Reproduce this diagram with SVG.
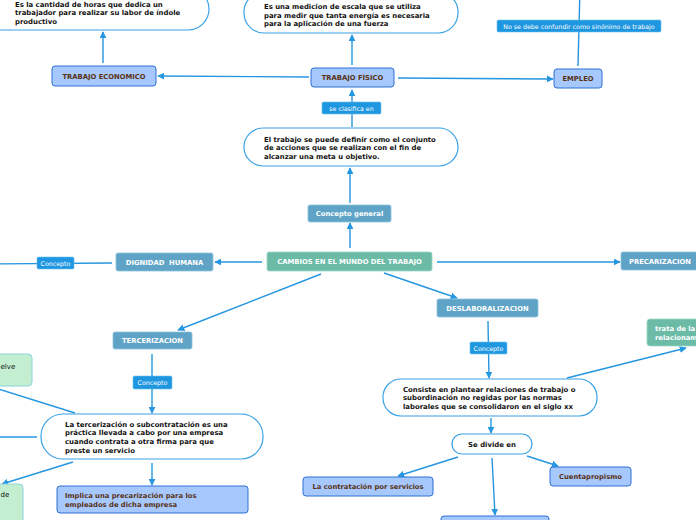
<svg xmlns="http://www.w3.org/2000/svg" width="696" height="520" viewBox="0 0 696 520">
<defs>
<marker id="ah" viewBox="0 0 10 10" refX="9" refY="5" markerWidth="7" markerHeight="7" markerUnits="userSpaceOnUse" orient="auto">
<path d="M0,0 L10,5 L0,10 z" fill="#2596e0"/>
</marker>
<style>
.c{stroke:#2596e0;stroke-width:1.4;fill:none;marker-end:url(#ah)}
.bub{fill:#fff;stroke:#3aa2e6;stroke-width:1.2}
.bt{font-family:"DejaVu Sans",Verdana,sans-serif;font-weight:bold;font-size:6.9px;fill:#111}
.lb{fill:#a6c8fc;stroke:#2d70d4;stroke-width:1}
.lbt{font-family:"DejaVu Sans",Verdana,sans-serif;font-weight:bold;font-size:6.8px;fill:#5a3214}
.sb{fill:#5fa4c7;stroke:#8cc3dd;stroke-width:0.8}
.tg{fill:#6cbba7;stroke:#9fd6c6;stroke-width:0.8}
.wt{font-family:"DejaVu Sans",Verdana,sans-serif;font-weight:bold;font-size:6.8px;fill:#fff}
.gr{fill:#c3eed0;stroke:#8ed4de;stroke-width:1}
.gt{font-family:"DejaVu Sans",Verdana,sans-serif;font-size:7px;fill:#111}
.lab{fill:#1f96e0;stroke:#6cc0ee;stroke-width:0.6}
.lt{font-family:"DejaVu Sans",Verdana,sans-serif;font-size:6.3px;fill:#fff}
</style>
</defs>

<g id="connectors">
<path class="c" d="M103,63 L103,32"/>
<path class="c" d="M309,77 L158,76"/>
<path class="c" d="M352,65 L352,35"/>
<path class="c" d="M398,78 L553,79"/>
<path class="c" d="M578,66 L580,-12"/>
<path class="c" d="M352,127 L352,90"/>
<path class="c" d="M350,203 L350,168"/>
<path class="c" d="M350,248 L350,223"/>
<path class="c" d="M262,262 L215,262"/>
<path class="c" d="M437,262 L620,262"/>
<path class="c" d="M321,274 L178,330"/>
<path class="c" d="M384,273 L457,298"/>
<path class="c" d="M112,263 L-12,264"/>
<path class="c" d="M152,354 L152,413"/>
<path class="c" d="M75,413 L-8,387"/>
<path class="c" d="M37,437 L-12,437"/>
<path class="c" d="M73,462 L2,484"/>
<path class="c" d="M152,463 L152,485"/>
<path class="c" d="M488,321 L489,378"/>
<path class="c" d="M567,378 L686,348"/>
<path class="c" d="M491,418 L491,433"/>
<path class="c" d="M458,457 L398,476"/>
<path class="c" d="M492,458 L495,515"/>
<path class="c" d="M527,456 L558,466"/>
<g id="conn-labels">
<rect class="lab" x="497" y="20" width="164" height="12" rx="1.5"/>
<text class="lt" x="579" y="28.5" text-anchor="middle">No se debe confundir como sinónimo de trabajo</text>
<rect class="lab" x="322" y="102" width="59" height="12" rx="1.5"/>
<text class="lt" x="351.5" y="110.5" text-anchor="middle">se clasifica en</text>
<rect class="lab" x="37" y="257" width="37" height="12" rx="1.5"/>
<text class="lt" x="55.5" y="265.5" text-anchor="middle">Concepto</text>
<rect class="lab" x="133" y="376" width="39" height="13" rx="1.5"/>
<text class="lt" x="152.5" y="385" text-anchor="middle">Concepto</text>
<rect class="lab" x="470" y="342" width="37" height="12" rx="1.5"/>
<text class="lt" x="488.5" y="350.5" text-anchor="middle">Concepto</text>
</g>
</g>

<g id="n-horas">
<rect class="bub" x="-22" y="-12" width="231" height="42" rx="21"/>
<text class="bt" x="15" y="6.5">Es la cantidad de horas que dedica un</text>
<text class="bt" x="15" y="15">trabajador para realizar su labor de índole</text>
<text class="bt" x="15" y="23.5">productivo</text>
</g>

<g id="n-medicion">
<rect class="bub" x="244" y="-8" width="214" height="41" rx="20"/>
<text class="bt" x="264" y="9">Es una medicion de escala que se utiliza</text>
<text class="bt" x="264" y="17.5">para medir que tanta energía es necesaria</text>
<text class="bt" x="264" y="26">para la aplicación de una fuerza</text>
</g>

<g id="n-economico">
<rect class="lb" x="52" y="66" width="104" height="20" rx="3"/>
<text class="lbt" x="104" y="78.5" text-anchor="middle">TRABAJO ECONOMICO</text>
</g>

<g id="n-fisico">
<rect class="lb" x="311" y="68" width="83" height="19" rx="3"/>
<text class="lbt" x="352.5" y="80" text-anchor="middle">TRABAJO FÍSICO</text>
</g>

<g id="n-empleo">
<rect class="lb" x="554" y="69" width="48" height="19" rx="3"/>
<text class="lbt" x="578" y="81" text-anchor="middle">EMPLEO</text>
</g>

<g id="n-definicion">
<rect class="bub" x="244" y="128" width="214" height="38" rx="19"/>
<text class="bt" x="264" y="141.5">El trabajo se puede definir como el conjunto</text>
<text class="bt" x="264" y="150">de acciones que se realizan con el fin de</text>
<text class="bt" x="264" y="158.5">alcanzar una meta u objetivo.</text>
</g>

<g id="n-concepto-general">
<rect class="sb" x="308" y="205" width="83" height="17" rx="2"/>
<text class="wt" x="349.5" y="216" text-anchor="middle">Concepto general</text>
</g>

<g id="n-cambios">
<rect class="tg" x="267" y="252" width="165" height="19" rx="2"/>
<text class="wt" x="349.5" y="264" text-anchor="middle">CAMBIOS EN EL MUNDO DEL TRABAJO</text>
</g>

<g id="n-dignidad">
<rect class="sb" x="116" y="253" width="97" height="18" rx="2"/>
<text class="wt" x="164.5" y="264.5" text-anchor="middle" xml:space="preserve">DIGNIDAD  HUMANA</text>
</g>

<g id="n-precarizacion">
<rect class="sb" x="621" y="252" width="90" height="18" rx="2"/>
<text class="wt" x="629" y="263.5">PRECARIZACION</text>
</g>

<g id="n-tercerizacion">
<rect class="sb" x="113" y="332" width="79" height="17" rx="2"/>
<text class="wt" x="152.5" y="343" text-anchor="middle">TERCERIZACION</text>
</g>

<g id="n-deslaboralizacion">
<rect class="sb" x="437" y="299" width="101" height="18" rx="2"/>
<text class="wt" x="487.5" y="310.5" text-anchor="middle">DESLABORALIZACION</text>
</g>

<g id="n-trata">
<rect class="tg" x="647" y="319" width="70" height="27" rx="3"/>
<text class="wt" x="655" y="331">trata de la</text>
<text class="wt" x="655" y="340">relacionam</text>
</g>

<g id="n-resuelve">
<rect class="gr" x="-40" y="354" width="72" height="32" rx="4"/>
<text class="gt" x="0.5" y="368.5">elve</text>
</g>

<g id="n-terc-def">
<rect class="bub" x="41" y="414" width="222" height="45" rx="22"/>
<text class="bt" x="65" y="426.5">La tercerización o subcontratación es una</text>
<text class="bt" x="65" y="435">práctica llevada a cabo por una empresa</text>
<text class="bt" x="65" y="444">cuando contrata a otra firma para que</text>
<text class="bt" x="65" y="452.5">preste un servicio</text>
</g>

<g id="n-de">
<rect class="gr" x="-40" y="484" width="63" height="50" rx="4"/>
<text class="gt" x="0.5" y="497">de</text>
</g>

<g id="n-implica">
<rect class="lb" x="57" y="486" width="191" height="27" rx="3"/>
<text class="lbt" x="65" y="497.5" style="font-size:6.8px">Implica una precarización para los</text>
<text class="lbt" x="65" y="506.5" style="font-size:6.8px">empleados de dicha empresa</text>
</g>

<g id="n-deslab-def">
<rect class="bub" x="383" y="379" width="214" height="37" rx="18"/>
<text class="bt" x="403" y="391.5">Consiste en plantear relaciones de trabajo o</text>
<text class="bt" x="403" y="400">subordinación no regidas por las normas</text>
<text class="bt" x="403" y="408.5">laborales que se consolidaron en el siglo xx</text>
</g>

<g id="n-divide">
<rect class="bub" x="452" y="434" width="80" height="20" rx="10"/>
<text class="bt" x="492" y="446.5" text-anchor="middle">Se divide en</text>
</g>

<g id="n-contratacion">
<rect class="lb" x="303" y="477" width="130" height="19" rx="3"/>
<text class="lbt" x="368" y="489" text-anchor="middle">La contratación por servicios</text>
</g>

<g id="n-cuenta">
<rect class="lb" x="550" y="467" width="81" height="19" rx="3"/>
<text class="lbt" x="590.5" y="479" text-anchor="middle">Cuentapropismo</text>
</g>

<g id="n-bottom">
<rect class="lb" x="441" y="516" width="108" height="20" rx="3"/>
</g>
</svg>
